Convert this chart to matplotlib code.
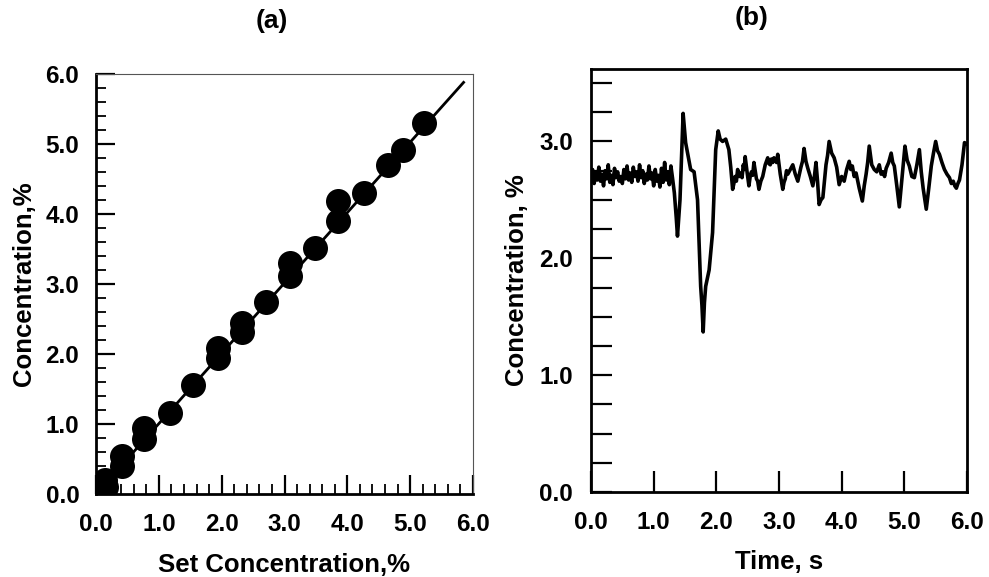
import numpy as np
import matplotlib
matplotlib.use("Agg")
import matplotlib.pyplot as plt
from matplotlib.ticker import MultipleLocator, FormatStrFormatter

plt.rcParams['font.family'] = ['Liberation Sans', 'DejaVu Sans']
plt.rcParams['font.weight'] = 'bold'

# (a) calibration: set vs measured concentration
set_conc = [0.06, 0.14, 0.16, 0.41, 0.41, 0.76, 0.76, 1.17, 1.54, 1.94, 1.94,
            2.33, 2.33, 2.70, 3.09, 3.09, 3.48, 3.85, 3.85, 4.27, 4.64, 4.88, 5.22]
meas_conc = [0.09, 0.20, 0.10, 0.40, 0.54, 0.78, 0.94, 1.16, 1.56, 1.94, 2.09,
             2.32, 2.44, 2.75, 3.11, 3.30, 3.51, 3.90, 4.18, 4.30, 4.70, 4.92, 5.30]
fit_x = [0.0, 5.85]
fit_y = [0.0, 5.88]

# (b) concentration trace: steady part sampled every 0.025 s, then the disturbance
dt_steady = 0.025
c_steady = [2.70, 2.76, 2.64, 2.73, 2.67, 2.78, 2.66, 2.72, 2.62, 2.75, 2.68,
            2.80, 2.65, 2.71, 2.63, 2.77, 2.69, 2.74, 2.66, 2.70, 2.64, 2.76,
            2.68, 2.79, 2.67, 2.73, 2.65, 2.78, 2.70, 2.74, 2.66, 2.80, 2.69,
            2.75, 2.64, 2.72, 2.67, 2.79, 2.68, 2.73, 2.62, 2.76, 2.66, 2.71,
            2.61, 2.77, 2.65, 2.82, 2.67, 2.74, 2.63, 2.79, 2.69]
t_trace = [1.33, 1.36, 1.38, 1.42, 1.47, 1.51, 1.59, 1.645, 1.70, 1.75, 1.77,
           1.79, 1.81, 1.83, 1.885, 1.94, 1.99, 2.03, 2.06, 2.10, 2.15,
           2.20, 2.23, 2.26, 2.28, 2.30, 2.32, 2.34, 2.365, 2.39, 2.41, 2.43,
           2.445, 2.46, 2.49, 2.52, 2.54, 2.56, 2.58, 2.60, 2.62, 2.64, 2.66,
           2.68, 2.71, 2.74, 2.78, 2.82, 2.84, 2.86, 2.88, 2.90, 2.92, 2.94,
           2.96, 2.98, 3.02, 3.06, 3.08, 3.10, 3.12, 3.14, 3.18, 3.22, 3.26,
           3.30, 3.325, 3.35, 3.375, 3.40, 3.43, 3.46, 3.50, 3.54, 3.565, 3.59,
           3.615, 3.64, 3.67, 3.70, 3.725, 3.75, 3.775, 3.80, 3.84, 3.88, 3.92,
           3.96, 4.00, 4.04, 4.08, 4.12, 4.145, 4.17, 4.20, 4.23, 4.28, 4.33,
           4.36, 4.39, 4.415, 4.44, 4.48, 4.52, 4.56, 4.60, 4.63, 4.66, 4.685,
           4.71, 4.75, 4.79, 4.815, 4.84, 4.88, 4.92, 4.965, 5.01, 5.045, 5.08,
           5.12, 5.16, 5.20, 5.24, 5.27, 5.30, 5.35, 5.39, 5.43, 5.465, 5.50,
           5.53, 5.56, 5.60, 5.64, 5.68, 5.72, 5.75, 5.78, 5.805, 5.83, 5.855,
           5.88, 5.92, 5.96, 5.99]
c_trace = [2.56, 2.35, 2.19, 2.50, 3.24, 2.99, 2.76, 2.74, 2.50, 1.76, 1.60,
           1.37, 1.62, 1.76, 1.90, 2.22, 2.93, 3.09, 3.02, 3.00, 3.02,
           2.93, 2.78, 2.59, 2.64, 2.70, 2.66, 2.76, 2.70, 2.73, 2.69, 2.80,
           2.76, 2.87, 2.74, 2.62, 2.70, 2.74, 2.71, 2.82, 2.75, 2.68, 2.66,
           2.59, 2.66, 2.70, 2.80, 2.86, 2.81, 2.80, 2.85, 2.82, 2.86, 2.84,
           2.82, 2.89, 2.72, 2.59, 2.65, 2.68, 2.75, 2.72, 2.76, 2.80, 2.72,
           2.66, 2.72, 2.78, 2.83, 2.94, 2.83, 2.77, 2.70, 2.62, 2.70, 2.82,
           2.66, 2.46, 2.50, 2.52, 2.66, 2.80, 2.88, 3.00, 2.90, 2.86, 2.78,
           2.63, 2.70, 2.66, 2.76, 2.83, 2.76, 2.79, 2.70, 2.73, 2.60, 2.49,
           2.62, 2.72, 2.82, 2.96, 2.80, 2.76, 2.74, 2.80, 2.72, 2.74, 2.70,
           2.77, 2.82, 2.90, 2.82, 2.79, 2.62, 2.44, 2.70, 2.96, 2.84, 2.79,
           2.70, 2.69, 2.80, 2.93, 2.74, 2.60, 2.42, 2.60, 2.79, 2.90, 3.00,
           2.92, 2.89, 2.82, 2.76, 2.72, 2.69, 2.64, 2.66, 2.62, 2.60, 2.64,
           2.67, 2.80, 2.99, 2.98]

t_all = list(np.arange(len(c_steady)) * dt_steady) + t_trace
c_all = c_steady + c_trace

fig = plt.figure(figsize=(9.89, 5.77), dpi=100)
W, H = 989, 577
axa = fig.add_axes([96 / W, 1 - 494 / H, 377 / W, 420 / H])
axb = fig.add_axes([591 / W, 1 - 492 / H, 376 / W, 423 / H])

tick_fs = 17.5
label_fs = 18.5

# panel (a)
axa.plot(fit_x, fit_y, color='black', lw=2.0)
axa.plot(set_conc, meas_conc, 'o', color='black', ms=18, markeredgewidth=0)
axa.set_xlim(0, 6)
axa.set_ylim(0, 6)
axa.xaxis.set_major_locator(MultipleLocator(1.0))
axa.xaxis.set_minor_locator(MultipleLocator(0.2))
axa.yaxis.set_major_locator(MultipleLocator(1.0))
axa.yaxis.set_minor_locator(MultipleLocator(0.2))
axa.xaxis.set_major_formatter(FormatStrFormatter('%.1f'))
axa.yaxis.set_major_formatter(FormatStrFormatter('%.1f'))
axa.tick_params(which='major', direction='in', length=14, width=1.6,
                labelsize=tick_fs, pad=12)
axa.tick_params(which='minor', direction='in', length=7, width=1.3)
axa.tick_params(axis='x', which='major', pad=14)
for side in ['left', 'bottom']:
    axa.spines[side].set_linewidth(2.0)
for side in ['top', 'right']:
    axa.spines[side].set_linewidth(0.8)
    axa.spines[side].set_color('#555555')
axa.set_xlabel('Set Concentration,%', fontsize=label_fs, fontweight='bold', labelpad=12)
axa.set_ylabel('Concentration,%', fontsize=label_fs, fontweight='bold', labelpad=7)

# panel (b)
axb.plot(t_all, c_all, color='black', lw=2.6)
axb.set_xlim(0, 6)
axb.set_ylim(0, 3.62)
axb.xaxis.set_major_locator(MultipleLocator(1.0))
axb.yaxis.set_major_locator(MultipleLocator(1.0))
axb.yaxis.set_minor_locator(MultipleLocator(0.25))
axb.xaxis.set_major_formatter(FormatStrFormatter('%.1f'))
axb.yaxis.set_major_formatter(FormatStrFormatter('%.1f'))
axb.tick_params(which='major', direction='in', length=15, width=1.6,
                labelsize=tick_fs, pad=13)
axb.tick_params(axis='y', which='minor', direction='in', length=15, width=1.6)
axb.tick_params(axis='x', which='major', pad=14)
for side in axb.spines:
    axb.spines[side].set_linewidth(2.0)
axb.set_xlabel('Time, s', fontsize=label_fs, fontweight='bold', labelpad=11)
axb.set_ylabel('Concentration, %', fontsize=label_fs, fontweight='bold', labelpad=7)

fig.text(272 / W, 1 - 21 / H, '(a)', fontsize=19, fontweight='bold', ha='center', va='center')
fig.text(752 / W, 1 - 18 / H, '(b)', fontsize=19, fontweight='bold', ha='center', va='center')

fig.savefig('out.png', dpi=100)
